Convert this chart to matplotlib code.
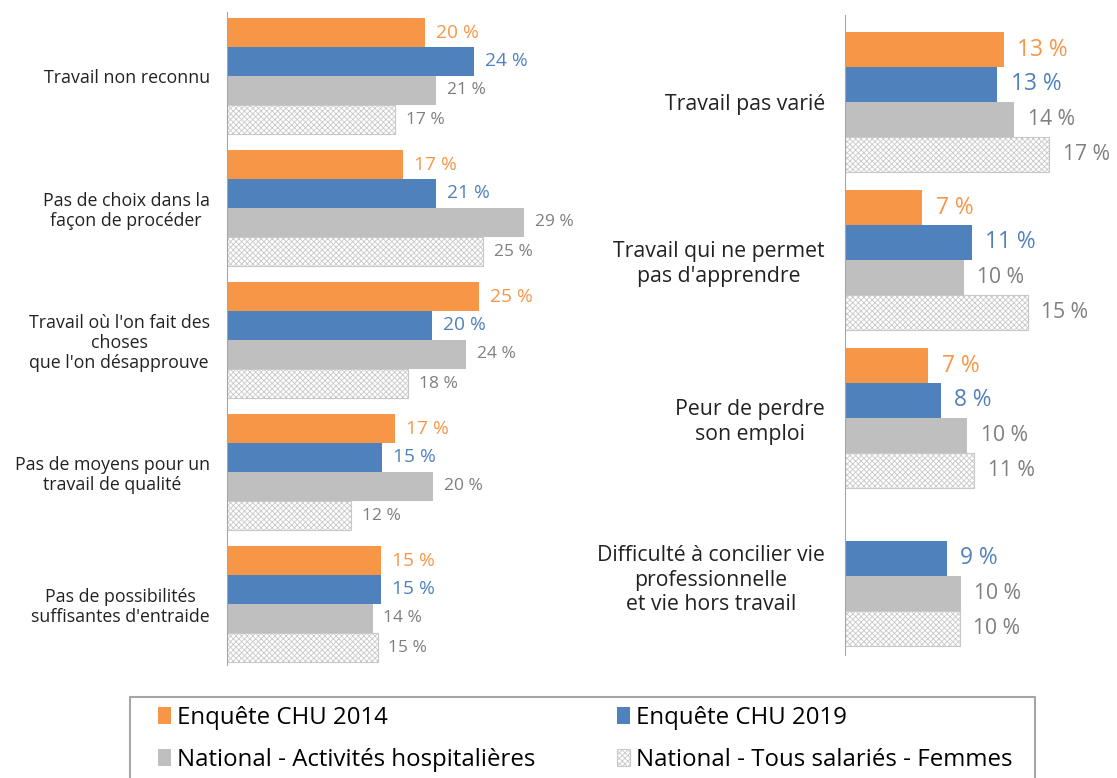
import numpy as np
from matplotlib import pyplot as plt
from matplotlib.patches import Rectangle

plt.rcParams["font.family"] = ["Open Sans", "DejaVu Sans"]
plt.rcParams["hatch.linewidth"] = 0.6

series = ["Enquête CHU 2014", "Enquête CHU 2019",
          "National - Activités hospitalières", "National - Tous salariés - Femmes"]

# left panel
left_cats = ["Travail non reconnu",
             "Pas de choix dans la\nfaçon de procéder",
             "Travail où l'on fait des\nchoses\nque l'on désapprouve",
             "Pas de moyens pour un\ntravail de qualité",
             "Pas de possibilités\nsuffisantes d'entraide"]
left_2014 = [19.3, 17.2, 24.6, 16.4, 15.0]
left_2019 = [24.1, 20.4, 20.0, 15.1, 15.0]
left_hosp = [20.4, 29.0, 23.3, 20.1, 14.2]
left_fem = [16.4, 25.0, 17.7, 12.1, 14.7]
left_lab_2014 = [20, 17, 25, 17, 15]
left_lab_2019 = [24, 21, 20, 15, 15]
left_lab_hosp = [21, 29, 24, 20, 14]
left_lab_fem = [17, 25, 18, 12, 15]

# right panel
right_cats = ["Travail pas varié",
              "Travail qui ne permet\npas d'apprendre",
              "Peur de perdre\nson emploi",
              "Difficulté à concilier vie\nprofessionnelle\net vie hors travail"]
right_2014 = [13.1, 6.4, 6.9, None]
right_2019 = [12.6, 10.5, 7.9, 8.4]
right_hosp = [14.0, 9.8, 10.1, 9.6]
right_fem = [16.9, 15.1, 10.7, 9.5]
right_lab_2014 = [13, 7, 7, None]
right_lab_2019 = [13, 11, 8, 9]
right_lab_hosp = [14, 10, 10, 10]
right_lab_fem = [17, 15, 11, 10]

ORANGE = "#F79646"
BLUE = "#4F81BD"
GREY = "#BFBFBF"
TXT_GREY = "#7F7F7F"

fig = plt.figure(figsize=(11.17, 7.78), dpi=100)
W, H = 1117, 778


def panel(rect_px, cats, vals, labs, xmax, spacing, pad_top, pad_bot,
          lab_size, big_size, cat_size, lab_off, tick_pad, lsp):
    x0, y0, x1, y1 = rect_px
    ax = fig.add_axes([x0 / W, 1 - y1 / H, (x1 - x0) / W, (y1 - y0) / H])
    n = len(cats)
    centers = np.arange(n) * spacing
    styles = [dict(color=ORANGE), dict(color=BLUE), dict(color=GREY),
              dict(facecolor="white", edgecolor="#C8C8C8", hatch="xxxxxx", linewidth=0.8)]
    tcol = [ORANGE, BLUE, TXT_GREY, TXT_GREY]
    tsize = [big_size, big_size, lab_size, lab_size]
    handles = []
    for k in range(4):
        ys = centers + (k - 1.5)
        for i in range(n):
            v = vals[k][i]
            if v is None:
                continue
            b = ax.barh(ys[i], v, height=1.0, **styles[k])
            ax.text(v + lab_off, ys[i], f"{labs[k][i]} %", va="center", ha="left",
                    color=tcol[k], fontsize=tsize[k], clip_on=False)
        handles.append(b)
    ax.set_xlim(0, xmax)
    ax.set_ylim(centers[-1] + 2 + pad_bot, centers[0] - 2 - pad_top)
    ax.set_yticks(centers)
    ax.set_yticklabels(cats, fontsize=cat_size, multialignment="center", color="#222222",
                       linespacing=lsp)
    ax.tick_params(left=False, bottom=False, labelbottom=False, pad=tick_pad)
    ax.set_xticks([])
    for s in ["top", "right", "bottom"]:
        ax.spines[s].set_visible(False)
    ax.spines["left"].set_color("#A6A6A6")
    return handles


handles = panel((227, 12, 596, 665), left_cats,
                [left_2014, left_2019, left_hosp, left_fem],
                [left_lab_2014, left_lab_2019, left_lab_hosp, left_lab_fem],
                36, 132 / 29, 6 / 29, 3 / 29, 12.5, 13.8, 12.8, 1.05, 9, 1.15)

panel((845, 15, 1087, 655), right_cats,
      [right_2014, right_2019, right_hosp, right_fem],
      [right_lab_2014, right_lab_2019, right_lab_hosp, right_lab_fem],
      20, 158 / 35, 17 / 35, 9 / 35, 15.2, 16.4, 15.3, 1.1, 11, 1.2)

# legend box runs past the bottom edge of the figure
fig.add_artist(Rectangle((130 / W, -0.05), 905 / W, 1 - 697 / H + 0.05,
                         transform=fig.transFigure, fill=False,
                         edgecolor="#A6A6A6", linewidth=1.5))

order = [0, 2, 1, 3]
leg = fig.legend([handles[i] for i in order], [series[i] for i in order],
                 loc="upper left", ncol=2, mode="expand",
                 bbox_to_anchor=(158 / W, 0, 855 / W, 1 - 706 / H), fontsize=17.3,
                 frameon=False, handlelength=0.55, handleheight=0.75, handletextpad=0.25,
                 borderpad=0, borderaxespad=0, labelspacing=0.75)

fig.savefig("out.png", dpi=100)
